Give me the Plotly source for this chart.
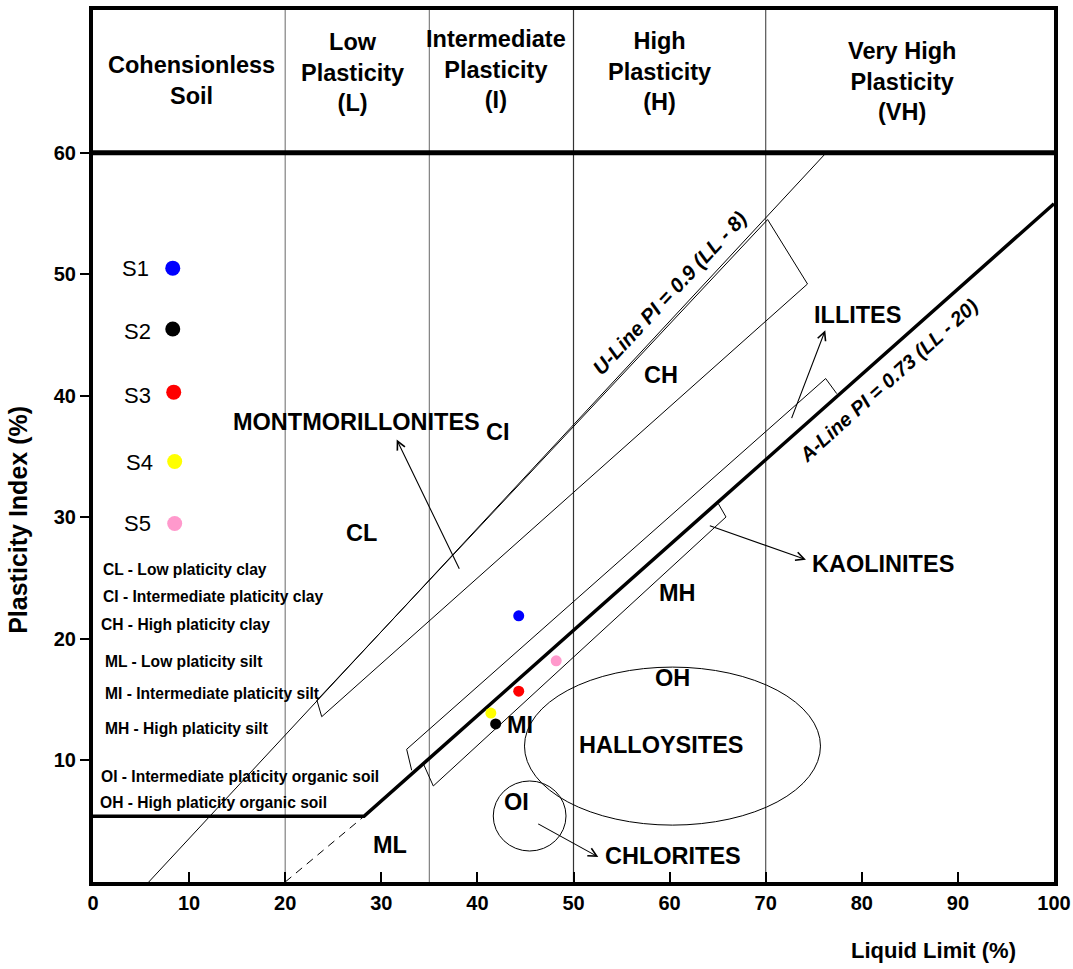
import plotly.graph_objects as go

# ---- Sample results: liquid limit (%) and plasticity index (%) ----
samples = ["S1", "S2", "S3", "S4", "S5"]
sample_ll = [44.3, 41.9, 44.3, 41.4, 48.2]
sample_pi = [21.9, 13.0, 15.7, 13.9, 18.2]
sample_colors = ["#0000ff", "#000000", "#ff0000", "#ffff00", "#ff99cc"]

# Key (legend) drawn inside the chart
key_ll = [8.3, 8.3, 8.4, 8.5, 8.5]
key_pi = [50.5, 45.5, 40.3, 34.6, 29.5]
key_label_ll = [4.4, 4.6, 4.6, 4.8, 4.6]
key_label_pi = [50.5, 45.3, 40.0, 34.5, 29.5]

# ---- Classification lines ----
a_line_ll = [0, 28.2, 100]
a_line_pi = [5.4, 5.4, 55.8]
a_ext_ll = [20, 28.2]
a_ext_pi = [0, 5.4]
u_line_ll = [5.8, 76.3]
u_line_pi = [0, 60]

# Clay-mineral zones
montmorillonite_ll = [23.3, 70.2, 74.35, 23.8, 23.3]
montmorillonite_pi = [14.95, 54.5, 49.2, 13.6, 14.95]
illite_ll = [33.16, 32.64, 76.24, 77.39]
illite_pi = [9.19, 10.92, 41.42, 40.18]
kaolinite_ll = [34.37, 35.41, 65.87, 65.07]
kaolinite_pi = [9.74, 7.9, 30.03, 31.13]

# Ellipses: (LL min, LL max, PI min, PI max)
halloysite_box = [44.9, 75.7, 4.68, 17.68]
chlorite_box = [41.65, 49.22, 2.55, 8.31]

# Plasticity range boundaries
plasticity_bounds = [20, 35, 50, 70]
bound_colors = ["#808080", "#808080", "#333333", "#555555"]
PI_TOP = 71.74
HEADER_BASE = 60

header_labels = ["Cohensionless<br>Soil", "Low<br>Plasticity<br>(L)",
                 "Intermediate<br>Plasticity<br>(I)", "High<br>Plasticity<br>(H)",
                 "Very High<br>Plasticity<br>(VH)"]
header_ll = [10.2, 27.05, 41.9, 58.9, 84.2]
header_pi = [65.9, 66.6, 66.85, 66.65, 65.85]

# Zone labels
zone_labels = ["MONTMORILLONITES", "CI", "CL", "CH", "MH", "OH", "HALLOYSITES",
               "MI", "OI", "ML", "CHLORITES", "KAOLINITES", "ILLITES"]
zone_ll = [27.47, 42.14, 27.99, 59.14, 60.77, 60.35, 59.2, 44.43, 44.12, 30.9, 60.35, 82.24, 79.5]
zone_pi = [37.85, 37.0, 28.69, 41.69, 23.75, 16.76, 11.25, 12.89, 6.56, 3.03, 2.11, 26.19, 46.62]

# Arrows: (tail LL, tail PI, head LL, head PI)
arrows = [
    (38.19, 25.65, 31.6, 36.4),    # montmorillonites
    (72.64, 38.04, 76.2, 45.4),    # illites
    (64.03, 29.35, 74.19, 26.52),  # kaolinites
    (46.17, 4.85, 52.58, 2.06),    # chlorites
]

abbrev_lines = ["CL - Low platicity clay", "CI - Intermediate platicity clay",
                "CH - High platicity clay", "ML - Low platicity silt",
                "MI - Intermediate platicity silt", "MH - High platicity silt",
                "OI - Intermediate platicity organic soil", "OH - High platicity organic soil"]
abbrev_ll = [0.8, 0.8, 0.6, 1.0, 1.0, 1.0, 0.6, 0.5]
abbrev_pi = [25.7, 23.45, 21.2, 18.1, 15.5, 12.62, 8.64, 6.58]

FONT = "Liberation Sans, Arial, Helvetica, sans-serif"

fig = go.Figure()


def add_line(xs, ys, width=1, dash="solid", color="black"):
    fig.add_trace(go.Scatter(x=xs, y=ys, mode="lines", hoverinfo="skip",
                             showlegend=False, line=dict(color=color, width=width, dash=dash)))


# Vertical plasticity boundaries (through the header too)
for b, c in zip(plasticity_bounds, bound_colors):
    add_line([b, b], [0, PI_TOP], width=1.2, color=c)

# Header base line
add_line([0, 100], [HEADER_BASE, HEADER_BASE], width=5)

add_line(u_line_ll, u_line_pi, width=1)
add_line(a_line_ll, a_line_pi, width=3.5)
add_line(a_ext_ll, a_ext_pi, width=1, dash="8px,6px")
add_line(montmorillonite_ll, montmorillonite_pi, width=1)
add_line(illite_ll, illite_pi, width=1)
add_line(kaolinite_ll, kaolinite_pi, width=1)

shapes = []
for box in (halloysite_box, chlorite_box):
    shapes.append(dict(type="circle", xref="x", yref="y", x0=box[0], x1=box[1],
                       y0=box[2], y1=box[3], line=dict(color="black", width=1)))

# Sample points
fig.add_trace(go.Scatter(x=sample_ll, y=sample_pi, mode="markers", hoverinfo="skip",
                         showlegend=False,
                         marker=dict(size=11, color=sample_colors, line=dict(width=0))))
# Key markers
fig.add_trace(go.Scatter(x=key_ll, y=key_pi, mode="markers", hoverinfo="skip",
                         showlegend=False,
                         marker=dict(size=15, color=sample_colors, line=dict(width=0))))

annotations = []
for name, x, y in zip(samples, key_label_ll, key_label_pi):
    annotations.append(dict(x=x, y=y, xref="x", yref="y", text=name, showarrow=False,
                            font=dict(family=FONT, size=22, color="black")))

for t, x, y in zip(header_labels, header_ll, header_pi):
    annotations.append(dict(x=x, y=y, xref="x", yref="y", text=f"<b>{t}</b>", showarrow=False,
                            font=dict(family=FONT, size=23.5, color="black")))

for t, x, y in zip(zone_labels, zone_ll, zone_pi):
    annotations.append(dict(x=x, y=y, xref="x", yref="y", text=f"<b>{t}</b>", showarrow=False,
                            font=dict(family=FONT, size=23.5, color="black")))

for t, x, y in zip(abbrev_lines, abbrev_ll, abbrev_pi):
    annotations.append(dict(x=x, y=y, xref="x", yref="y", text=f"<b>{t}</b>", showarrow=False,
                            xanchor="left", font=dict(family=FONT, size=15.6, color="black")))

for tx, ty, hx, hy in arrows:
    annotations.append(dict(x=hx, y=hy, ax=tx, ay=ty, xref="x", yref="y", axref="x", ayref="y",
                            text="", showarrow=True, arrowhead=5, arrowsize=1.5,
                            arrowwidth=1.1, arrowcolor="black"))

# Line equations written along the lines
annotations.append(dict(x=60.0, y=48.5, xref="x", yref="y", showarrow=False, textangle=-47,
                        text="<b><i>U-Line PI = 0.9 (LL - 8)</i></b>",
                        font=dict(family=FONT, size=20.5, color="black")))
annotations.append(dict(x=82.8, y=41.3, xref="x", yref="y", showarrow=False, textangle=-42,
                        text="<b><i>A-Line PI = 0.73 (LL - 20)</i></b>",
                        font=dict(family=FONT, size=20, color="black")))

# Axis titles
annotations.append(dict(x=87.5, y=-0.078, xref="x", yref="paper", showarrow=False,
                        xanchor="center", yanchor="middle",
                        text="<b>Liquid Limit (%)</b>",
                        font=dict(family=FONT, size=22, color="black")))
annotations.append(dict(x=-0.078, y=29.8, xref="paper", yref="y", showarrow=False,
                        xanchor="center", yanchor="middle",
                        textangle=-90, text="<b>Plasticity Index (%)</b>",
                        font=dict(family=FONT, size=25, color="black")))

fig.update_layout(
    width=1073, height=969,
    margin=dict(l=93, r=19, t=10, b=87),
    paper_bgcolor="white", plot_bgcolor="white",
    shapes=shapes, annotations=annotations,
    xaxis=dict(range=[0, 100], tickvals=list(range(0, 101, 10)), ticks="inside",
               ticklen=10, tickwidth=1.5, tickcolor="black", showline=True, linewidth=4,
               linecolor="black", mirror=True, showgrid=False, zeroline=False,
               ticklabeloverflow="allow", automargin=False,
               tickfont=dict(family=FONT, size=20, color="black", weight="bold")),
    yaxis=dict(range=[0, PI_TOP], tickvals=list(range(10, 61, 10)), ticks="outside",
               ticklen=9, tickwidth=1.5, tickcolor="black", showline=True, linewidth=4,
               linecolor="black", mirror=True, showgrid=False, zeroline=False,
               automargin=False,
               tickfont=dict(family=FONT, size=20, color="black", weight="bold")),
)

fig.write_html("out.html")
